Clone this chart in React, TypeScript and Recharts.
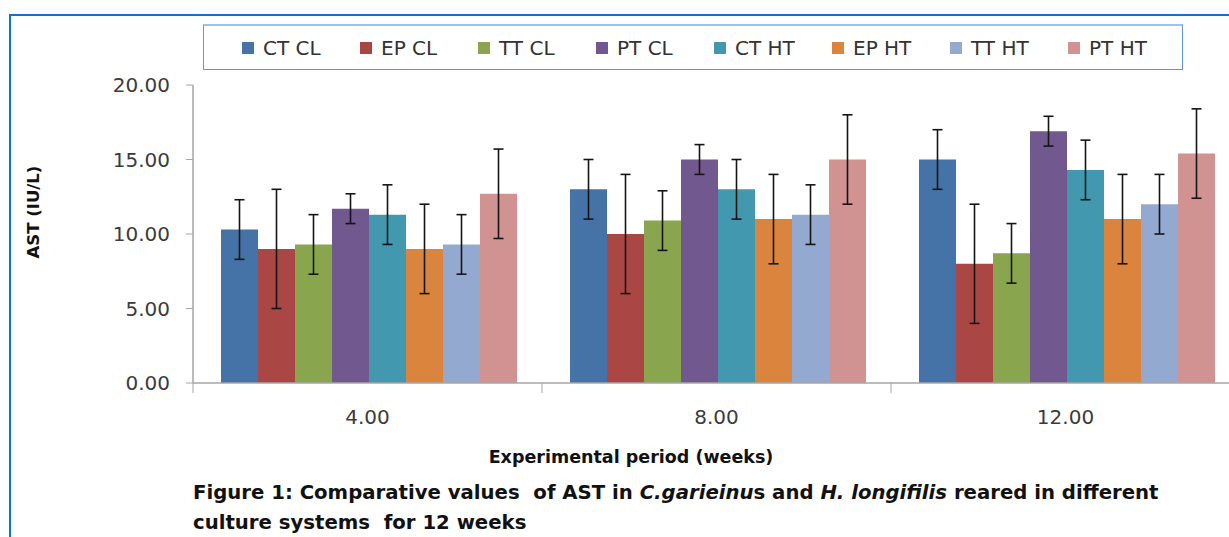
import { Bar, BarChart, ErrorBar, XAxis, YAxis } from "recharts";

const weeks = ["4.00", "8.00", "12.00"];
const seriesNames = ["CT CL", "EP CL", "TT CL", "PT CL", "CT HT", "EP HT", "TT HT", "PT HT"];
const seriesColors = ["#4572a7", "#aa4643", "#89a54e", "#71588f", "#4198af", "#db843d", "#93a9cf", "#d19392"];

const ctCl = [10.3, 13.0, 15.0];
const epCl = [9.0, 10.0, 8.0];
const ttCl = [9.3, 10.9, 8.7];
const ptCl = [11.7, 15.0, 16.9];
const ctHt = [11.3, 13.0, 14.3];
const epHt = [9.0, 11.0, 11.0];
const ttHt = [9.3, 11.3, 12.0];
const ptHt = [12.7, 15.0, 15.4];

const ctClErr = [2, 2, 2];
const epClErr = [4, 4, 4];
const ttClErr = [2, 2, 2];
const ptClErr = [1, 1, 1];
const ctHtErr = [2, 2, 2];
const epHtErr = [3, 3, 3];
const ttHtErr = [2, 2, 2];
const ptHtErr = [3, 3, 3];

const yTicks = [0, 5, 10, 15, 20];

const values = [ctCl, epCl, ttCl, ptCl, ctHt, epHt, ttHt, ptHt];
const errors = [ctClErr, epClErr, ttClErr, ptClErr, ctHtErr, epHtErr, ttHtErr, ptHtErr];

const data = weeks.map((week, i) => {
  const row: Record<string, string | number> = { week };
  seriesNames.forEach((_, s) => {
    row[`v${s}`] = values[s][i];
    row[`e${s}`] = errors[s][i];
  });
  return row;
});

const CHART_W = 1262;
const CHART_H = 537;
const X_H = 30;
const MARGIN = { top: 85, right: 22, bottom: 154 - X_H, left: 113 };
const Y_W = 80;
const BAND = (CHART_W - MARGIN.left - MARGIN.right - Y_W) / weeks.length;
const X_TICK_GAP = 27;

const axisGrey = "#a6a6a6";
const textDark = "#3b3b3b";
const numFont = "'DejaVu Sans', sans-serif";

// category labels plus the boundary tick marks between week groups
function WeekTick(props: any) {
  const { x, y, payload } = props;
  const axisY = y - X_TICK_GAP;
  return (
    <g>
      <line x1={x - BAND / 2} x2={x - BAND / 2} y1={axisY} y2={axisY + 10} stroke={axisGrey} strokeWidth={1} />
      <text x={x} y={y} dy="0.71em" textAnchor="middle" fill={textDark} fontSize={20} fontFamily={numFont}>
        {payload.value}
      </text>
    </g>
  );
}

export default function App() {
  return (
    <div
      style={{
        position: "absolute",
        left: 0,
        top: 0,
        width: 1229,
        height: 537,
        overflow: "hidden",
        background: "#fff",
      }}
    >
      <div
        style={{
          position: "absolute",
          left: 9,
          top: 14,
          width: 1400,
          height: 700,
          border: "2px solid #1570cc",
        }}
      />

      <div style={{ position: "absolute", left: 0, top: 0 }}>
        <BarChart width={CHART_W} height={CHART_H} data={data} margin={MARGIN} barCategoryGap={28} barGap={0}>
          <XAxis
            dataKey="week"
            height={X_H}
            axisLine={{ stroke: axisGrey, strokeWidth: 1.5 }}
            tickLine={false}
            tickSize={0}
            tickMargin={X_TICK_GAP}
            tick={<WeekTick />}
            interval={0}
          />
          <YAxis
            width={Y_W}
            domain={[0, 20]}
            ticks={yTicks}
            interval={0}
            tickFormatter={(v: number) => v.toFixed(2)}
            axisLine={{ stroke: axisGrey, strokeWidth: 1.5 }}
            tickLine={{ stroke: axisGrey }}
            tickSize={7}
            tickMargin={16}
            tick={{ fill: textDark, fontSize: 20, fontFamily: numFont }}
          />
          {seriesNames.map((name, s) => (
            <Bar key={name} dataKey={`v${s}`} name={name} fill={seriesColors[s]} isAnimationActive={false}>
              <ErrorBar dataKey={`e${s}`} width={5} stroke="#151515" strokeWidth={1.6} direction="y" />
            </Bar>
          ))}
        </BarChart>
      </div>

      {/* legend box */}
      <div
        style={{
          position: "absolute",
          left: 203,
          top: 24,
          width: 980,
          height: 46,
          border: "1px solid #5b9bd5",
          borderTop: "2px solid #9cc3ea",
          boxSizing: "border-box",
        }}
      />
      <div
        style={{
          position: "absolute",
          left: 242,
          top: 36,
          display: "flex",
          fontFamily: numFont,
          fontSize: 20,
          color: "#333",
          lineHeight: "24px",
        }}
      >
        {seriesNames.map((name, s) => (
          <div key={name} style={{ width: 118, display: "flex", alignItems: "center" }}>
            <span style={{ display: "inline-block", width: 12, height: 12, background: seriesColors[s], marginRight: 9 }} />
            <span>{name}</span>
          </div>
        ))}
      </div>

      {/* y axis title */}
      <div
        style={{
          position: "absolute",
          left: 33,
          top: 212,
          transform: "translate(-50%, -50%) rotate(-90deg)",
          fontFamily: numFont,
          fontWeight: 700,
          fontSize: 16.5,
          color: "#111",
          whiteSpace: "nowrap",
        }}
      >
        AST (IU/L)
      </div>

      {/* x axis title */}
      <div
        style={{
          position: "absolute",
          left: 631,
          top: 457,
          transform: "translate(-50%, -50%)",
          fontFamily: numFont,
          fontWeight: 700,
          fontSize: 17.5,
          color: "#111",
          whiteSpace: "nowrap",
        }}
      >
        Experimental period (weeks)
      </div>

      {/* caption */}
      <div
        style={{
          position: "absolute",
          left: 193,
          top: 478,
          fontFamily: numFont,
          fontWeight: 700,
          fontSize: 19.7,
          lineHeight: "30px",
          color: "#111",
          whiteSpace: "pre",
        }}
      >
        {"Figure 1: Comparative values  of AST in "}
        <i>C.garieinu</i>
        {"s and "}
        <i>H. longifilis</i>
        {" reared in different\nculture systems  for 12 weeks"}
      </div>
    </div>
  );
}
